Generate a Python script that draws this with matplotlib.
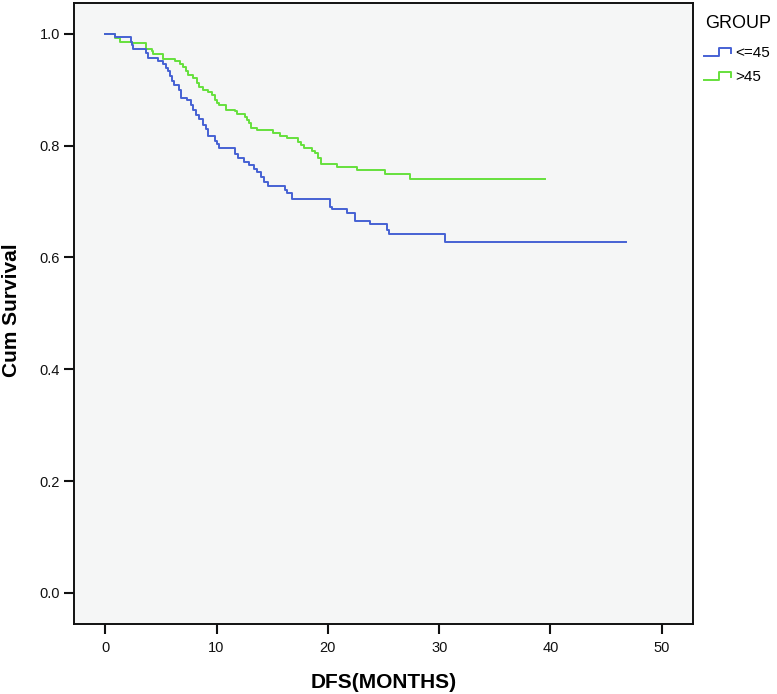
import matplotlib
matplotlib.use("Agg")
import matplotlib.pyplot as plt
from matplotlib.lines import Line2D
import numpy as np

plt.rcParams['font.family'] = ['Liberation Sans', 'DejaVu Sans']

# Kaplan-Meier step data: (event time, survival after event)
young_t = [0, 0.9, 2.28, 2.37, 2.52, 3.66, 3.87, 4.76, 5.21, 5.45, 5.66, 5.81, 5.96,
           6.17, 6.65, 6.80, 7.37, 7.67, 7.91, 8.15, 8.45, 8.81, 9.05, 9.26, 9.86,
           10.07, 10.25, 11.65, 11.95, 12.5, 12.94, 13.36, 13.66, 13.96, 14.26, 14.65,
           16.11, 16.29, 16.74, 20.19, 20.35, 21.75, 22.43, 23.78, 25.34, 25.52, 30.52,
           46.78]
young_s = [1.0, 0.995, 0.986, 0.980, 0.973, 0.966, 0.957, 0.952, 0.946, 0.939, 0.933,
           0.924, 0.915, 0.908, 0.900, 0.886, 0.882, 0.872, 0.864, 0.854, 0.848, 0.837,
           0.830, 0.817, 0.809, 0.802, 0.795, 0.785, 0.777, 0.771, 0.765, 0.759, 0.753,
           0.743, 0.735, 0.727, 0.721, 0.715, 0.704, 0.690, 0.686, 0.679, 0.666, 0.659,
           0.649, 0.642, 0.628, 0.628]

old_t = [0, 0.87, 1.32, 2.37, 3.66, 4.17, 4.32, 5.21, 6.26, 6.71, 7.01, 7.25, 7.46,
         7.91, 8.21, 8.42, 8.81, 9.26, 9.56, 9.86, 10.01, 10.25, 10.84, 11.65, 11.86,
         12.55, 12.76, 12.94, 13.06, 13.66, 15.10, 15.70, 16.30, 17.34, 17.55, 17.85,
         18.54, 18.84, 19.14, 19.38, 20.79, 22.58, 25.13, 27.38, 39.5]
old_s = [1.0, 0.992, 0.986, 0.983, 0.973, 0.969, 0.964, 0.955, 0.952, 0.946, 0.940,
         0.934, 0.927, 0.921, 0.912, 0.904, 0.900, 0.896, 0.891, 0.882, 0.876, 0.872,
         0.864, 0.861, 0.856, 0.852, 0.845, 0.840, 0.832, 0.827, 0.822, 0.818, 0.813,
         0.807, 0.801, 0.795, 0.791, 0.786, 0.777, 0.767, 0.761, 0.756, 0.750, 0.741,
         0.741]

groups = ['<=45', '>45']
x_ticks = [0, 10, 20, 30, 40, 50]
y_ticks = [0.0, 0.2, 0.4, 0.6, 0.8, 1.0]

BLUE = '#4661d4'
GREEN = '#66e03c'

fig = plt.figure(figsize=(7.77, 6.94), dpi=100)
ax = fig.add_axes([74/777, 1 - 624/694, (693-74)/777, (624-3)/694])
ax.set_facecolor('#f5f6f6')

ax.step(old_t, old_s, where='post', color=GREEN, lw=1.4, zorder=3)
ax.step(young_t, young_s, where='post', color=BLUE, lw=1.4, zorder=3)

ax.set_xlim(-2.8, 52.8)
ax.set_ylim(-0.0555, 1.055)
ax.set_xticks(x_ticks)
ax.set_xticklabels([str(v) for v in x_ticks])
ax.set_yticks(y_ticks)
ax.set_yticklabels([f'{v:.1f}' for v in y_ticks])
for s in ax.spines.values():
    s.set_linewidth(1.4)
    s.set_color('#111111')
ax.tick_params(axis='both', direction='out', length=7, width=1.5, labelsize=10.5,
               colors='#111111')
ax.tick_params(axis='x', pad=5)
ax.tick_params(axis='y', pad=3)

fig.text(12/777, 1 - 310/694, 'Cum Survival', rotation=90, ha='center', va='center',
         fontsize=15, fontweight='bold')
fig.text(384/777, 1 - 682/694, 'DFS(MONTHS)', ha='center', va='center',
         fontsize=15, fontweight='bold')

# legend
fig.text(705/777, 1 - 23/694, 'GROUP', ha='left', va='center', fontsize=13)
for i, (lab, col) in enumerate(zip(groups, [BLUE, GREEN])):
    dy = i * 24
    xs = np.array([704, 719, 719, 731, 731]) / 777
    ys = 1 - np.array([56 + dy, 56 + dy, 48 + dy, 48 + dy, 53 + dy]) / 694
    fig.add_artist(Line2D(xs, ys, color=col, lw=1.4))
    fig.text(735/777, 1 - (53 + dy)/694, lab, ha='left', va='center', fontsize=11)

fig.savefig('out.png', dpi=100)
